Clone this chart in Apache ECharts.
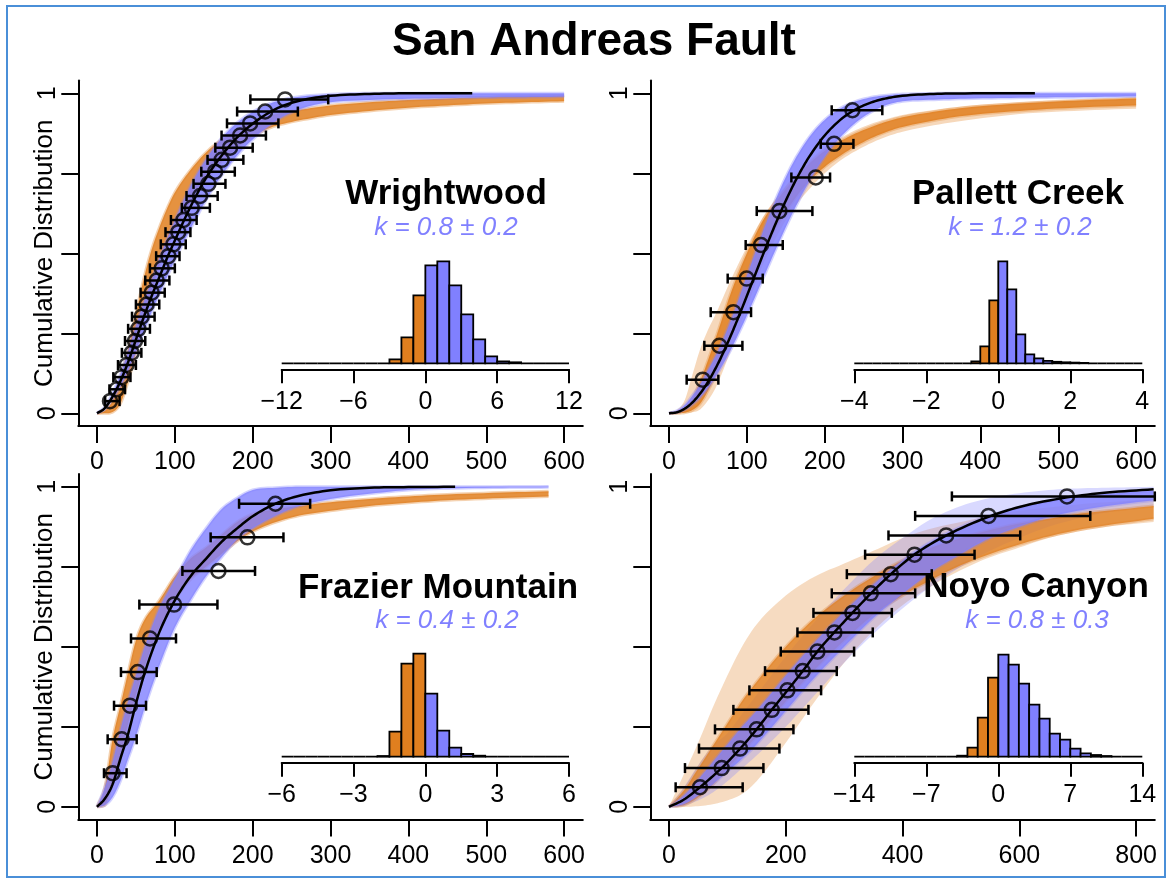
<!DOCTYPE html>
<html>
<head>
<meta charset="utf-8">
<title>San Andreas Fault</title>
<script src="https://cdn.jsdelivr.net/npm/echarts@6/dist/echarts.min.js"></script>
<style>
  html, body { margin: 0; padding: 0; background: #ffffff; }
  #chart { width: 1168px; height: 881px; }
</style>
</head>
<body>
<div id="chart"></div>
<script>
// ---------------- Wrightwood ----------------
const wwBandX     = [0,10,20,30,40,50,60,70,80,90,100,120,140,160,180,200,220,240,270,300,350,400,450,500,550,600];
const wwOrangeLo  = [0,0,.004,.03,.1,.19,.29,.38,.46,.52,.575,.66,.73,.785,.83,.865,.89,.905,.92,.932,.945,.955,.962,.968,.972,.975];
const wwOrangeHi  = [0,.008,.04,.11,.2,.31,.42,.51,.58,.64,.69,.76,.815,.855,.885,.91,.928,.94,.952,.962,.972,.979,.984,.988,.991,.993];
const wwBlueLo    = [0,.013,.044,.084,.133,.191,.254,.315,.372,.426,.479,.576,.666,.743,.806,.856,.896,.928,.958,.972,.979,.983,.985,.987,.988,.989];
const wwBlueHi    = [0,.02,.063,.121,.194,.272,.347,.415,.483,.544,.603,.71,.794,.86,.908,.942,.966,.981,.992,.997,1,1,1,1,1,1];
const wwFitX      = [0,10,20,30,40,50,60,70,80,90,100,120,140,160,180,200,220,240,270,300,350,400,482];
const wwFitP      = [0,.016,.052,.1,.16,.23,.3,.365,.425,.485,.54,.645,.735,.805,.862,.905,.938,.962,.982,.992,.998,1,1];
const wwObsX      = [16.7,25.3,31.7,38.1,44.6,48.8,53.1,57.4,63.8,70.3,76.7,83.1,91.7,98.1,104.5,111,121.7,132.4,143.1,151.7,160.2,170.9,183.8,196.7,216,241.6];
const wwObsP      = [.038,.075,.113,.151,.189,.226,.264,.302,.34,.377,.415,.453,.491,.528,.566,.604,.642,.679,.717,.755,.792,.83,.868,.906,.943,.981];
const wwObsLo     = [10.5,16,21,27,32,36,40,45,50,56,62,68,76,82,88,95,109,115,124,134,142,152,160,167,180,197];
const wwObsHi     = [29,36,43,50,57,62,68,74,80,87,93,100,106,114,120,128,145,155,165,177,188,200,217,233,258,297];
const wwKCounts   = [0,0,0,0,0,0,0,0,0,4,26,68,98,102,78,49,24,7,2,1,0,0,0,0];

// ---------------- Pallett Creek ----------------
const pcBandX        = [0,10,20,30,40,50,60,80,100,120,140,160,180,200,220,240,260,280,300,340,380,450,520,600];
const pcBlueLo       = [0,.0026,.0114,.0273,.0495,.0787,.1143,.2017,.3051,.4165,.5279,.6321,.7242,.8013,.8624,.9085,.9416,.9642,.975,.98,.983,.986,.988,.99];
const pcBlueHi       = [0,.008,.025,.055,.09,.135,.18,.2931,.429,.5637,.685,.7855,.8624,.9169,.9528,.9748,.9874,.9941,.9975,.9996,1,1,1,1];
const pcOrangeCoreLo = [0,0,.002,.01,.03,.07,.12,.25,.38,.5,.59,.665,.725,.77,.805,.835,.86,.88,.895,.915,.93,.945,.955,.962];
const pcOrangeCoreHi = [0,.002,.012,.045,.1,.165,.235,.38,.5,.6,.67,.73,.78,.82,.85,.875,.895,.912,.925,.942,.955,.968,.977,.984];
const pcOrangeOutLo  = [0,0,0,.003,.012,.04,.08,.2,.33,.46,.56,.64,.7,.75,.79,.82,.845,.865,.88,.9,.915,.935,.945,.952];
const pcOrangeOutHi  = [0,.01,.04,.12,.2,.26,.31,.42,.52,.61,.68,.74,.79,.83,.86,.885,.905,.92,.932,.948,.96,.972,.98,.987];
const pcFitX         = [0,10,20,30,40,50,60,70,80,90,100,110,120,130,140,150,160,170,180,200,220,240,260,280,300,340,380,470];
const pcFitP         = [0,.0032,.0142,.0337,.0617,.0978,.1413,.1911,.2462,.3051,.3666,.429,.4912,.5518,.6098,.6644,.7148,.7604,.8013,.8682,.9169,.9502,.9716,.9847,.9921,.9982,.9997,1];
const pcObsX         = [43.3,64.7,82.7,99.8,118.3,141.8,188.5,212.1,235.6];
const pcObsP         = [.105,.211,.316,.421,.526,.632,.737,.842,.947];
const pcObsLo        = [22.7,45.4,53.6,75.4,98.5,112.7,157.2,194.9,209];
const pcObsHi        = [63.4,94.3,105.4,120.4,146.1,184.2,206.9,236.9,274];
const pcKCounts      = [0,0,0,0,0,0,0,0,0,0,0,0,0,2,17,63,102,74,29,9,5,2.5,1.5,1,.7,.4,0,0,0,0,0,0];

// ---------------- Frazier Mountain ----------------
const fmBandX    = [0,10,20,30,40,50,60,80,100,120,140,160,180,200,230,260,300,350,400,450,520,580];
const fmBlueLo   = [0,.005,.03,.08,.15,.22,.3,.44,.56,.645,.72,.78,.835,.87,.91,.94,.962,.978,.99,.995,.998,.999];
const fmBlueHi   = [0,.06,.14,.24,.33,.41,.49,.62,.71,.8,.87,.93,.965,.99,.997,1,1,1,1,1,1,1];
const fmOrangeLo = [0,.005,.075,.16,.26,.35,.43,.56,.645,.71,.75,.79,.83,.86,.89,.91,.925,.94,.95,.958,.965,.97];
const fmOrangeHi = [0,.06,.212,.316,.421,.52,.58,.645,.72,.775,.81,.85,.89,.915,.93,.94,.952,.962,.97,.976,.982,.986];
const fmFitX     = [0,10,20,30,40,50,60,80,100,120,140,160,180,200,230,260,300,350,400,460];
const fmFitP     = [0,.025,.07,.15,.228,.322,.408,.545,.645,.72,.775,.828,.87,.908,.948,.972,.989,.997,.999,1];
const fmObsX     = [20.1,31.7,42.4,52.3,68.1,99,156,193.2,229.2];
const fmObsP     = [.105,.211,.316,.421,.526,.632,.737,.842,.947];
const fmObsLo    = [9,13.7,21.9,30.8,43.7,54.4,109.7,146,182.5];
const fmObsHi    = [38,51,63,76.7,101.5,154.7,203,239.5,273.8];
const fmKCounts  = [0,0,0,0,0,0,0,0,.7,25,93,103,63,26,9,2.7,1,0,0,0,0,0,0,0];

// ---------------- Noyo Canyon ----------------
const ncBandX        = [0,25,50,75,100,125,150,200,250,300,350,400,450,500,550,600,650,700,750,830];
const ncBlueCoreLo   = [0,.008,.035,.07,.11,.15,.195,.3,.405,.5,.59,.665,.735,.79,.84,.875,.905,.925,.94,.958];
const ncBlueCoreHi   = [0,.035,.085,.14,.195,.25,.3,.41,.515,.61,.695,.77,.83,.875,.91,.935,.955,.968,.978,.988];
const ncBlueOutLo    = [0,.003,.02,.045,.08,.12,.16,.25,.35,.45,.54,.62,.69,.75,.8,.84,.875,.9,.92,.94];
const ncBlueOutHi    = [0,.06,.13,.19,.23,.29,.35,.47,.58,.68,.77,.84,.9,.94,.965,.98,.99,.995,.997,1];
const ncOrangeCoreLo = [0,.005,.03,.07,.12,.17,.22,.33,.43,.52,.6,.66,.71,.755,.79,.82,.845,.865,.88,.9];
const ncOrangeCoreHi = [0,.05,.12,.19,.26,.33,.39,.5,.59,.66,.72,.77,.81,.84,.865,.885,.9,.915,.925,.94];
const ncOrangeOutLo  = [0,0,.002,.008,.02,.04,.08,.2,.33,.45,.55,.63,.69,.74,.78,.81,.84,.86,.875,.89];
const ncOrangeOutHi  = [0,.1,.2,.31,.41,.5,.57,.66,.72,.76,.8,.84,.87,.89,.91,.925,.935,.945,.952,.96];
const ncFitX         = [0,25,53,90,122,150,176,203,229,254,283,314,346,380,420,475,547,600,682,750,830];
const ncFitP         = [0,.022,.061,.121,.182,.242,.303,.364,.424,.485,.545,.606,.667,.727,.788,.848,.906,.937,.967,.982,.992];
const ncObsX         = [53.1,90.3,121.7,150.2,176,202.8,229,254.2,283.3,314.2,345.6,379.9,420.5,474.7,547.2,681.6];
const ncObsP         = [.061,.121,.182,.242,.303,.364,.424,.485,.545,.606,.667,.727,.788,.848,.909,.970];
const ncObsLo        = [11.4,27.4,51.4,78.8,110.3,137.7,164.5,191.4,220,247.4,278.8,304.6,335.9,375.9,421.6,484.5];
const ncObsHi        = [126.2,161.7,189.1,213.1,238.8,260.5,287.3,317,349,381.6,421.6,450,523.3,601.5,721.5,832];
const ncKCounts      = [0,0,0,0,0,0,0,0,0,0,1,9,39,79,102,92,73,52,38,23,17,8,3.3,1.7,.7,0,0,0];

// ---------------- Axis tick values ----------------
const pTicks    = [0, 0.25, 0.5, 0.75, 1];
const pLabels   = [0, 1];
const x600Ticks = [0, 100, 200, 300, 400, 500, 600];
const x800Ticks = [0, 200, 400, 600, 800];

// ---------------- Style ----------------
const FONT   = '"Liberation Sans", Arial, Helvetica, sans-serif';
const ORANGE = '#E07F1F';
const BLUE   = '#8080FF';
const INK    = '#000000';

const grids = [], xAxes = [], yAxes = [], series = [];

function pairs(xs, ys) { return xs.map((x, i) => [x, ys[i]]); }

// Monotone cubic (Fritsch-Carlson) resampling of a pixel polyline whose x increases.
function monotoneResample(pts, steps) {
  const n = pts.length;
  if (n < 3) return pts.slice();
  const d = [], m = new Array(n);
  for (let i = 0; i < n - 1; i++) {
    const h = pts[i + 1][0] - pts[i][0];
    d.push(h !== 0 ? (pts[i + 1][1] - pts[i][1]) / h : 0);
  }
  m[0] = d[0]; m[n - 1] = d[n - 2];
  for (let i = 1; i < n - 1; i++) m[i] = (d[i - 1] * d[i] <= 0) ? 0 : (d[i - 1] + d[i]) / 2;
  for (let i = 0; i < n - 1; i++) {
    if (d[i] === 0) { m[i] = 0; m[i + 1] = 0; continue; }
    const a = m[i] / d[i], b = m[i + 1] / d[i], s = a * a + b * b;
    if (s > 9) { const t = 3 / Math.sqrt(s); m[i] = t * a * d[i]; m[i + 1] = t * b * d[i]; }
  }
  const out = [pts[0].slice()];
  for (let i = 0; i < n - 1; i++) {
    const x0 = pts[i][0], y0 = pts[i][1], y1 = pts[i + 1][1], h = pts[i + 1][0] - x0;
    for (let s = 1; s <= steps; s++) {
      const t = s / steps, t2 = t * t, t3 = t2 * t;
      const h00 = 2 * t3 - 3 * t2 + 1, h10 = t3 - 2 * t2 + t, h01 = -2 * t3 + 3 * t2, h11 = t3 - t2;
      out.push([x0 + h * t, h00 * y0 + h10 * h * m[i] + h01 * y1 + h11 * h * m[i + 1]]);
    }
  }
  return out;
}

function addMainAxes(g, xMin, xMax, xTicks, yName) {
  const gi = grids.length;
  grids.push({ left: g.left, top: g.top, width: g.width, height: g.height, containLabel: false, outerBoundsMode: 'none' });
  xAxes.push({
    gridIndex: gi, type: 'value', min: xMin, max: xMax, splitLine: { show: false },
    axisLine: { show: true, onZero: false, lineStyle: { color: INK, width: 2 } },
    axisTick: { show: true, length: 17, customValues: xTicks, lineStyle: { color: INK, width: 2 } },
    axisLabel: { show: true, customValues: xTicks, margin: 24, color: INK, fontSize: 25, fontFamily: FONT }
  });
  yAxes.push({
    gridIndex: gi, type: 'value', min: -0.04, max: 1.04, splitLine: { show: false },
    axisLine: { show: true, onZero: false, lineStyle: { color: INK, width: 2 } },
    axisTick: { show: true, length: 17, customValues: pTicks, lineStyle: { color: INK, width: 2 } },
    axisLabel: { show: true, customValues: pLabels, rotate: 90, margin: 18, color: INK, fontSize: 25, fontFamily: FONT },
    name: yName || '', nameLocation: 'middle', nameRotate: 90, nameGap: 20, nameMoveOverlap: false,
    nameTextStyle: { color: INK, fontSize: 26, fontFamily: FONT }
  });
  return gi;
}

function addInsetAxes(g, kMin, kMax, kTicks) {
  const gi = grids.length;
  grids.push({ left: g.left, top: g.top, width: g.width, height: g.height, containLabel: false, outerBoundsMode: 'none' });
  xAxes.push({
    gridIndex: gi, type: 'value', min: kMin, max: kMax, offset: 6, splitLine: { show: false },
    axisLine: { show: true, onZero: false, lineStyle: { color: INK, width: 2 } },
    axisTick: { show: true, length: 14, customValues: kTicks, lineStyle: { color: INK, width: 2 } },
    axisLabel: { show: true, customValues: kTicks, margin: 20, color: INK, fontSize: 25, fontFamily: FONT,
                 formatter: v => String(v).replace('-', '\u2212') }
  });
  yAxes.push({ gridIndex: gi, type: 'value', min: 0, max: 120, show: false });
  return gi;
}

// Shaded band of curves between a lower and an upper envelope.
function addBand(gi, xs, lo, hi, color, fill, edgeWidth, edgeOpacity) {
  series.push({
    type: 'custom', xAxisIndex: gi, yAxisIndex: gi, silent: true, z: 1, clip: false,
    data: xs.map((x, i) => [x, lo[i], hi[i]]),
    encode: { x: 0, y: [1, 2] },
    renderItem: function (params, api) {
      if (params.dataIndex !== 0) return null;
      const up = monotoneResample(xs.map((x, i) => api.coord([x, hi[i]])), 6);
      const dn = monotoneResample(xs.map((x, i) => api.coord([x, lo[i]])), 6);
      const children = [
        { type: 'polygon', shape: { points: up.concat(dn.slice().reverse()) }, style: { fill: color, opacity: fill } }
      ];
      if (edgeWidth > 0) {
        const es = { fill: 'none', stroke: color, lineWidth: edgeWidth, opacity: edgeOpacity };
        children.push({ type: 'polyline', shape: { points: up }, style: es });
        children.push({ type: 'polyline', shape: { points: dn }, style: es });
      }
      return { type: 'group', children: children };
    }
  });
}

// Fitted distribution curve, drawn as a monotone smooth line.
function addFit(gi, xs, ps) {
  series.push({
    type: 'custom', xAxisIndex: gi, yAxisIndex: gi, silent: true, z: 3, clip: false,
    data: pairs(xs, ps),
    encode: { x: 0, y: 1 },
    renderItem: function (params, api) {
      if (params.dataIndex !== 0) return null;
      const pts = monotoneResample(xs.map((x, i) => api.coord([x, ps[i]])), 8);
      return { type: 'polyline', shape: { points: pts },
               style: { fill: 'none', stroke: INK, lineWidth: 2.5, lineJoin: 'round' } };
    }
  });
}

function addObservations(gi, xs, ps, lo, hi) {
  series.push({
    type: 'custom', xAxisIndex: gi, yAxisIndex: gi, silent: true, z: 4, clip: false,
    data: lo.map((l, i) => [l, hi[i], ps[i]]),
    encode: { x: [0, 1], y: 2 },
    renderItem: function (params, api) {
      const a = api.coord([api.value(0), api.value(2)]);
      const b = api.coord([api.value(1), api.value(2)]);
      const cap = 5, st = { stroke: INK, lineWidth: 2.5 };
      return { type: 'group', children: [
        { type: 'line', shape: { x1: a[0], y1: a[1], x2: b[0], y2: b[1] }, style: st },
        { type: 'line', shape: { x1: a[0], y1: a[1] - cap, x2: a[0], y2: a[1] + cap }, style: st },
        { type: 'line', shape: { x1: b[0], y1: b[1] - cap, x2: b[0], y2: b[1] + cap }, style: st }
      ]};
    }
  });
  series.push({
    type: 'scatter', xAxisIndex: gi, yAxisIndex: gi, data: pairs(xs, ps), silent: true, z: 5,
    symbol: 'circle', symbolSize: 14,
    itemStyle: { color: 'rgba(255,255,255,0)', borderColor: INK, borderWidth: 2.5 }
  });
}

function addHistogram(gi, start, width, counts) {
  series.push({
    type: 'custom', xAxisIndex: gi, yAxisIndex: gi, silent: true, z: 2,
    data: counts.map((c, i) => [start + i * width, start + (i + 1) * width, c]),
    encode: { x: [0, 1], y: 2 },
    renderItem: function (params, api) {
      const x0 = api.value(0), x1 = api.value(1);
      const p0 = api.coord([x0, api.value(2)]);
      const p1 = api.coord([x1, 0]);
      return {
        type: 'rect',
        shape: { x: p0[0], y: p0[1], width: p1[0] - p0[0], height: p1[1] - p0[1] },
        style: { fill: (x0 + x1) / 2 < 0 ? ORANGE : BLUE, stroke: INK, lineWidth: 1.8 }
      };
    }
  });
}

// ---------------- Panels ----------------
const W = 504.5, H = 345.6;

// Wrightwood
let g = addMainAxes({ left: 78.3, top: 80.5, width: W, height: H }, -24, 624, x600Ticks, 'Cumulative Distribution');
addBand(g, wwBandX, wwOrangeLo, wwOrangeHi, ORANGE, 0.85, 3, 0.35);
addBand(g, wwBandX, wwBlueLo, wwBlueHi, BLUE, 0.85, 3, 0.35);
addFit(g, wwFitX, wwFitP);
addObservations(g, wwObsX, wwObsP, wwObsLo, wwObsHi);

// Pallett Creek
g = addMainAxes({ left: 650.3, top: 80.5, width: W, height: H }, -24, 624, x600Ticks, '');
addBand(g, pcBandX, pcOrangeOutLo, pcOrangeOutHi, ORANGE, 0.3, 0, 0);
addBand(g, pcBandX, pcOrangeCoreLo, pcOrangeCoreHi, ORANGE, 0.85, 3, 0.3);
addBand(g, pcBandX, pcBlueLo, pcBlueHi, BLUE, 0.85, 3, 0.35);
addFit(g, pcFitX, pcFitP);
addObservations(g, pcObsX, pcObsP, pcObsLo, pcObsHi);

// Frazier Mountain
g = addMainAxes({ left: 78.3, top: 474, width: W, height: H }, -24, 624, x600Ticks, 'Cumulative Distribution');
addBand(g, fmBandX, fmOrangeLo, fmOrangeHi, ORANGE, 0.85, 3, 0.35);
addBand(g, fmBandX, fmBlueLo, fmBlueHi, BLUE, 0.8, 3, 0.35);
addFit(g, fmFitX, fmFitP);
addObservations(g, fmObsX, fmObsP, fmObsLo, fmObsHi);

// Noyo Canyon
g = addMainAxes({ left: 650.3, top: 474, width: W, height: H }, -32, 832, x800Ticks, '');
addBand(g, ncBandX, ncOrangeOutLo, ncOrangeOutHi, ORANGE, 0.28, 0, 0);
addBand(g, ncBandX, ncBlueOutLo, ncBlueOutHi, BLUE, 0.3, 0, 0);
addBand(g, ncBandX, ncOrangeCoreLo, ncOrangeCoreHi, ORANGE, 0.78, 3, 0.3);
addBand(g, ncBandX, ncBlueCoreLo, ncBlueCoreHi, BLUE, 0.8, 3, 0.3);
addFit(g, ncFitX, ncFitP);
addObservations(g, ncObsX, ncObsP, ncObsLo, ncObsHi);

// Inset histograms of k
g = addInsetAxes({ left: 281.7, top: 243.3, width: 287.3, height: 120 }, -12, 12, [-12, -6, 0, 6, 12]);
addHistogram(g, -12, 1, wwKCounts);
g = addInsetAxes({ left: 854.3, top: 243.3, width: 288, height: 120 }, -4, 4, [-4, -2, 0, 2, 4]);
addHistogram(g, -4, 0.25, pcKCounts);
g = addInsetAxes({ left: 281.7, top: 636.7, width: 287.3, height: 120 }, -6, 6, [-6, -3, 0, 3, 6]);
addHistogram(g, -6, 0.5, fmKCounts);
g = addInsetAxes({ left: 854.3, top: 636.7, width: 288, height: 120 }, -14, 14, [-14, -7, 0, 7, 14]);
addHistogram(g, -14, 1, ncKCounts);

// ---------------- Text ----------------
function label(x, y, text, font, color) {
  return { type: 'text', x: x, y: y, silent: true, z: 10,
    style: { text: text, font: font, fill: color,
             align: 'center', verticalAlign: 'middle', textAlign: 'center', textVerticalAlign: 'middle' } };
}
const titleFont = 'bold 35px ' + FONT;
const kFont = 'italic 26px ' + FONT;

const graphic = [
  { type: 'rect', silent: true, z: 0, shape: { x: 7, y: 6, width: 1158, height: 871 },
    style: { fill: 'none', stroke: '#4A8FD8', lineWidth: 2 } },
  label(594, 42, 'San Andreas Fault', 'bold 46px ' + FONT, INK),
  label(446, 194, 'Wrightwood', titleFont, INK),
  label(446, 228, 'k = 0.8 \u00B1 0.2', kFont, BLUE),
  label(1018, 194, 'Pallett Creek', titleFont, INK),
  label(1020, 228, 'k = 1.2 \u00B1 0.2', kFont, BLUE),
  label(438, 588, 'Frazier Mountain', titleFont, INK),
  label(447, 621, 'k = 0.4 \u00B1 0.2', kFont, BLUE),
  label(1036, 587, 'Noyo Canyon', titleFont, INK),
  label(1037, 621, 'k = 0.8 \u00B1 0.3', kFont, BLUE)
];

const chart = echarts.init(document.getElementById('chart'), null, { renderer: 'canvas' });
chart.setOption({
  animation: false,
  backgroundColor: '#ffffff',
  textStyle: { fontFamily: FONT },
  grid: grids,
  xAxis: xAxes,
  yAxis: yAxes,
  series: series,
  graphic: graphic
});
</script>
</body>
</html>
